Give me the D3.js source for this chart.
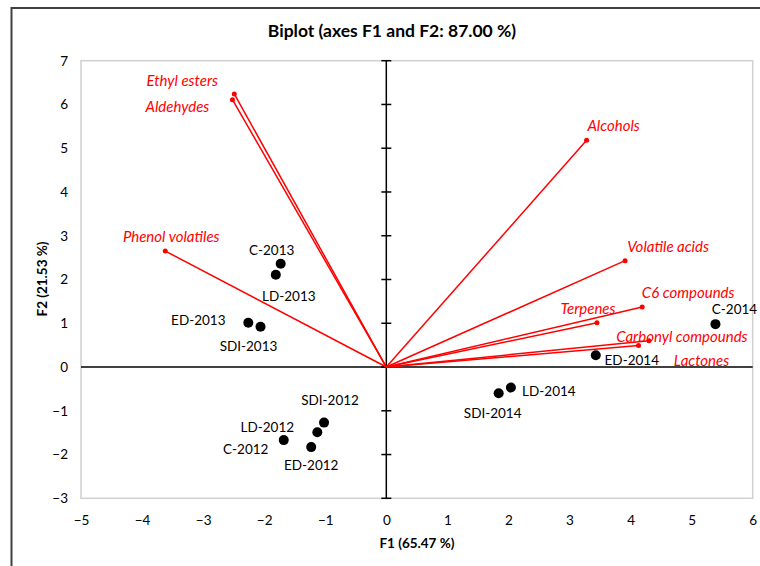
<!DOCTYPE html>
<html><head><meta charset="utf-8">
<script src="https://cdn.jsdelivr.net/npm/d3@7"></script>
<style>
body{margin:0;background:#fff;}
text{font-family:Lato,"Open Sans",sans-serif;}
</style></head>
<body><svg id="c" width="760" height="566"></svg>
<script>
// ---- data ----
const varNames = ["Ethyl esters","Aldehydes","Phenol volatiles","Alcohols","Volatile acids","C6 compounds","Terpenes","Carbonyl compounds","Lactones"];
const varF1 = [-2.49,-2.52,-3.62,3.28,3.91,4.19,3.45,4.30,4.13];
const varF2 = [6.24,6.11,2.65,5.18,2.43,1.37,1.01,0.60,0.49];
const obsNames = ["C-2013","LD-2013","ED-2013","SDI-2013","C-2014","ED-2014","LD-2014","SDI-2014","SDI-2012","LD-2012","C-2012","ED-2012"];
const obsF1 = [-1.73,-1.81,-2.26,-2.06,5.39,3.43,2.04,1.84,-1.02,-1.13,-1.68,-1.23];
const obsF2 = [2.36,2.11,1.01,0.92,0.98,0.27,-0.47,-0.60,-1.27,-1.49,-1.67,-1.83];
const xTicks = [-5,-4,-3,-2,-1,0,1,2,3,4,5,6];
const yTicks = [-3,-2,-1,0,1,2,3,4,5,6,7];
const title = "Biplot (axes F1 and F2: 87.00 %)";
const xTitle = "F1 (65.47 %)";
const yTitle = "F2 (21.53 %)";

// ---- layout ----
const svg = d3.select("#c");
const L = 81, R = 752.7, T = 60.7, B = 498.3;
const x = d3.scaleLinear().domain([-5,6]).range([L,R]);
const y = d3.scaleLinear().domain([-3,7]).range([B,T]);

// label offsets (px) for placement
const varOff = [[-52,-14],[-55,6],[6,-15],[27,-15],[43,-15],[46,-15],[-9,-15],[33,-5],[63,14]];
const obsOff = [[-9,-14],[13,21],[-50,-3],[-12,19],[19,-15],[36,5],[38,3],[-6,20],[6,-23],[-50,-5],[-38,9],[0,18]];

// outer frame
svg.append("line").attr("x1",11.5).attr("x2",760).attr("y1",8).attr("y2",8).attr("stroke","#404040").attr("stroke-width",2);
svg.append("line").attr("x1",11.5).attr("x2",11.5).attr("y1",7).attr("y2",566).attr("stroke","#404040").attr("stroke-width",2);

// plot area
svg.append("rect").attr("x",L).attr("y",T).attr("width",R-L).attr("height",B-T)
  .attr("fill","none").attr("stroke","#d0d0d0").attr("stroke-width",1.5);

// title
svg.append("text").attr("x",392).attr("y",30).attr("text-anchor","middle").attr("dominant-baseline","central")
  .attr("font-size",17.5).attr("font-weight","bold").attr("fill","#000").text(title);

// tick labels
const xa = svg.append("g").attr("transform",`translate(0,${B})`)
  .call(d3.axisBottom(x).tickValues(xTicks).tickSize(0).tickPadding(17).tickFormat(d3.format("d")));
xa.select(".domain").remove();
xa.selectAll("text").attr("font-size",13.5).attr("fill","#000").style("font-family","Lato");
const ya = svg.append("g").attr("transform",`translate(${L},0)`)
  .call(d3.axisLeft(y).tickValues(yTicks).tickSize(0).tickPadding(13).tickFormat(d3.format("d")));
ya.select(".domain").remove();
ya.selectAll("text").attr("font-size",13.5).attr("fill","#000").style("font-family","Lato");

// axis titles
svg.append("text").attr("x",417).attr("y",543).attr("text-anchor","middle").attr("dominant-baseline","central")
  .attr("font-size",13.5).attr("font-weight","bold").text(xTitle);
svg.append("text").attr("transform",`translate(42,279) rotate(-90)`).attr("text-anchor","middle").attr("dominant-baseline","central")
  .attr("font-size",13.5).attr("font-weight","bold").text(yTitle);

// zero axes
svg.append("line").attr("x1",L).attr("x2",R).attr("y1",y(0)).attr("y2",y(0)).attr("stroke","#000").attr("stroke-width",1.5);
const va = svg.append("g").attr("transform",`translate(${x(0)},0)`);
va.append("line").attr("y1",T).attr("y2",B).attr("stroke","#000").attr("stroke-width",1.5);
va.selectAll("line.t").data(yTicks).join("line").attr("class","t")
  .attr("x1",-5).attr("x2",5).attr("y1",d=>y(d)).attr("y2",d=>y(d)).attr("stroke","#000").attr("stroke-width",1.5);

// vectors
const vg = svg.append("g");
varNames.forEach((n,i)=>{
  vg.append("line").attr("x1",x(0)).attr("y1",y(0)).attr("x2",x(varF1[i])).attr("y2",y(varF2[i]))
    .attr("stroke","#ff0000").attr("stroke-width",1.5);
  vg.append("circle").attr("cx",x(varF1[i])).attr("cy",y(varF2[i])).attr("r",2.5).attr("fill","#ff0000");
  vg.append("text").attr("x",x(varF1[i])+varOff[i][0]).attr("y",y(varF2[i])+varOff[i][1])
    .attr("text-anchor","middle").attr("dominant-baseline","central")
    .attr("font-size",15).attr("font-style","italic").attr("fill","#ff0000").text(n);
});

// observations
const og = svg.append("g");
obsNames.forEach((n,i)=>{
  og.append("circle").attr("cx",x(obsF1[i])).attr("cy",y(obsF2[i])).attr("r",5).attr("fill","#000");
  og.append("text").attr("x",x(obsF1[i])+obsOff[i][0]).attr("y",y(obsF2[i])+obsOff[i][1])
    .attr("text-anchor","middle").attr("dominant-baseline","central")
    .attr("font-size",13.5).attr("fill","#000").text(n);
});
</script></body></html>
